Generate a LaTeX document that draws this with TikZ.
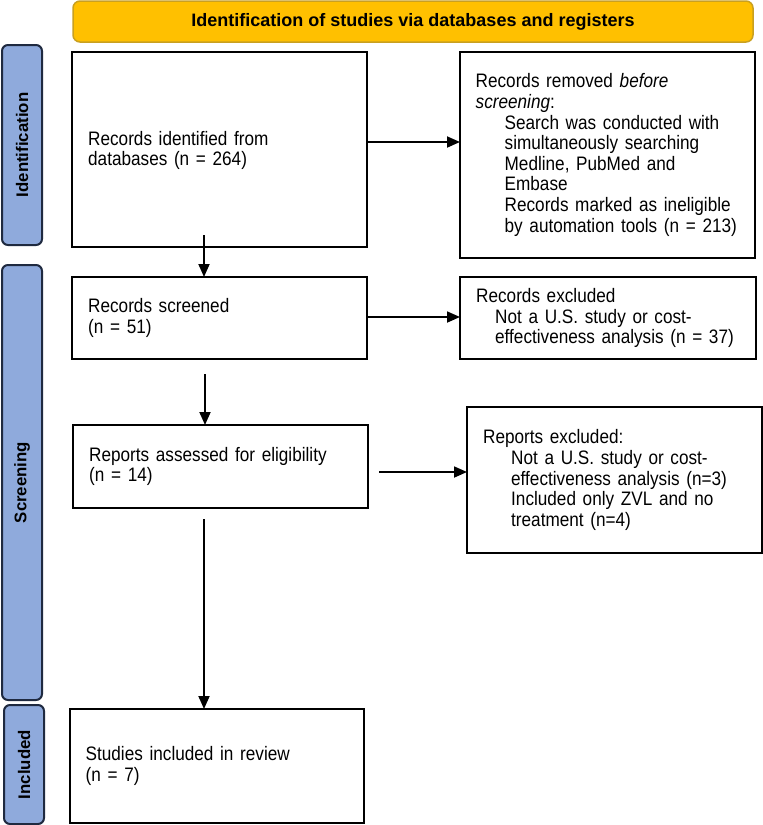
\documentclass[tikz,border=0pt]{standalone}
\usepackage{fontspec}
\setmainfont[FakeStretch=0.88,WordSpace=1.4]{Liberation Sans}
\newfontfamily\labfont{Liberation Sans}
\usetikzlibrary{arrows.meta}
\definecolor{bannerfill}{HTML}{FFC000}
\definecolor{bannerdraw}{HTML}{C9A020}
\definecolor{barfill}{HTML}{8FAADC}
\definecolor{bardraw}{HTML}{1F2A40}
\begin{document}
\begin{tikzpicture}[x=1pt,y=-1pt,
  box/.style={draw=black, line width=2pt, fill=white, inner sep=0pt, outer sep=0pt},
  txt/.style={anchor=west, align=left, inner sep=0pt, font=\fontsize{19.5}{20.6}\selectfont},
  banner/.style={draw=bannerdraw, fill=bannerfill, line width=1.5pt, rounded corners=7pt,
    inner sep=0pt, outer sep=0pt, font=\labfont\bfseries\fontsize{18}{20}\selectfont},
  sidebar/.style={draw=bardraw, fill=barfill, line width=2pt, rounded corners=6pt,
    inner sep=0pt, outer sep=0pt},
  barlabel/.style={rotate=90, inner sep=0pt, font=\labfont\bfseries\fontsize{16.8}{18}\selectfont},
  arr/.style={line width=1.8pt, -{Triangle[length=13pt,width=11pt]}}
]
\useasboundingbox (0,0) rectangle (763,825);

% banner
\node[banner, minimum width=680pt, minimum height=41pt] (ban) at (413,21.5)
  {Identification of studies via databases and registers};

% side bars
\node[sidebar, minimum width=40pt, minimum height=200pt] (sid) at (22,145) {};
\node[barlabel] (lid) at (sid.center) {Identification};
\node[sidebar, minimum width=40pt, minimum height=435pt] (ssc) at (22,482.5) {};
\node[barlabel] (lsc) at (ssc.center) {Screening};
\node[sidebar, minimum width=40pt, minimum height=119pt] (sin) at (24,764.5) {};
\node[barlabel] (lin) at (sin.center) {Included};

% boxes
\node[box, minimum width=295pt, minimum height=195pt] (b1) at (219.5,149.5) {};
\node[txt] (t1) at ([xshift=16pt,yshift=-1pt]b1.west) {Records identified from\\databases (n = 264)};

\node[box, minimum width=295pt, minimum height=206pt] (r1) at (607.5,155) {};
\node[txt] (tr1) at ([xshift=15.5pt]r1.west) {Records removed \textit{before}\\\textit{screening}:\\
\hspace*{29pt}Search was conducted with\\
\hspace*{29pt}simultaneously searching\\
\hspace*{29pt}Medline, PubMed and\\
\hspace*{29pt}Embase\\
\hspace*{29pt}Records marked as ineligible\\
\hspace*{29pt}by automation tools (n = 213)};

\node[box, minimum width=295pt, minimum height=82pt] (b2) at (219.5,318) {};
\node[txt] (t2) at ([xshift=16pt]b2.west) {Records screened\\(n = 51)};

\node[box, minimum width=296pt, minimum height=82pt] (r2) at (608,318) {};
\node[txt] (tr2) at ([xshift=16pt]r2.west) {Records excluded\\
\hspace*{19pt}Not a U.S. study or cost-\\
\hspace*{19pt}effectiveness analysis (n = 37)};

\node[box, minimum width=295pt, minimum height=83pt] (b3) at (220.5,466.5) {};
\node[txt] (t3) at ([xshift=16pt]b3.west) {Reports assessed for eligibility\\(n = 14)};

\node[box, minimum width=295pt, minimum height=146pt] (r3) at (614.5,480) {};
\node[txt] (tr3) at ([xshift=16pt]r3.west) {Reports excluded:\\
\hspace*{28pt}Not a U.S. study or cost-\\
\hspace*{28pt}effectiveness analysis (n=3)\\
\hspace*{28pt}Included only ZVL and no\\
\hspace*{28pt}treatment (n=4)};

\node[box, minimum width=294pt, minimum height=114pt] (b4) at (217,766) {};
\node[txt] (t4) at ([xshift=15.5pt]b4.west) {Studies included in review\\(n = 7)};

% connectors
\draw[arr] (b1.east |- 0,142) -- (r1.west |- 0,142);
\draw[arr] ([yshift=12pt]b1.south -| 204,0) -- (b2.north -| 204,0);
\draw[arr] (b2.east |- 0,317) -- (r2.west |- 0,317);
\draw[arr] ([yshift=-15pt]b2.south -| 205,0) -- (b3.north -| 205,0);
\draw[arr] ([xshift=11pt]b3.east |- 0,472) -- (r3.west |- 0,472);
\draw[arr] ([yshift=-11pt]b3.south -| 204,0) -- (b4.north -| 204,0);
\end{tikzpicture}
\end{document}
